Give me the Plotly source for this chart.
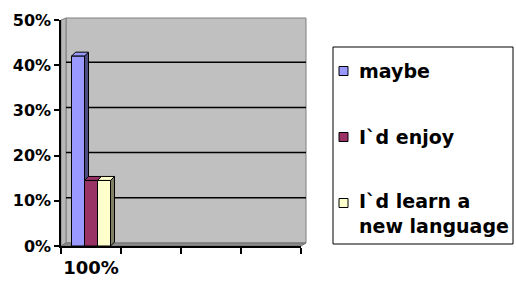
import plotly.graph_objects as go

categories = ["100%", " ", "  ", "   "]
series_names = ["maybe", "I`d enjoy", "I`d learn a<br>new language"]
series_values = [
    [0.42, None, None, None],
    [0.145, None, None, None],
    [0.145, None, None, None],
]
series_colors = ["#9999ff", "#993366", "#ffffcc"]
side_colors = ["#4d4d80", "#4d1a33", "#808066"]
y_ticks = [0, 0.1, 0.2, 0.3, 0.4, 0.5]

# layout geometry (pixels)
W, H = 516, 284
L, R, T, B = 61, 215, 20, 38
PW, PH = W - L - R, H - T - B
YMAX = 0.5
BARGAP = 0.35
DX, DY = 4, 4          # bar depth in px
WX, WY = 5, 3          # wall depth in px

def px_x(px):  # pixel -> paper x
    return (px - L) / PW

def px_y(py):  # pixel -> paper y
    return (H - B - py) / PH

xu = (len(categories)) / PW      # data units per px (x)
yu = YMAX / PH                   # data units per px (y)

fig = go.Figure()
for name, vals, col in zip(series_names, series_values, series_colors):
    fig.add_trace(go.Bar(
        x=list(range(len(categories))), y=vals, name=name.replace("<br>", " "),
        marker=dict(color=col, line=dict(color="black", width=1)),
        showlegend=False,
    ))

shapes = []
# back wall
shapes.append(dict(type="rect", xref="paper", yref="paper", layer="below",
                   x0=px_x(L + WX), x1=px_x(L + PW + WX), y0=px_y(H - B - WY), y1=px_y(T - 2),
                   fillcolor="#c0c0c0", line=dict(color="#808080", width=1)))
# left side wall
shapes.append(dict(type="path", xref="paper", yref="paper", layer="below",
                   path=f"M {px_x(L)},{px_y(H-B)} L {px_x(L+WX)},{px_y(H-B-WY)} L {px_x(L+WX)},{px_y(T-2)} L {px_x(L)},{px_y(T)} Z",
                   fillcolor="#b8b8b8", line=dict(color="#808080", width=1)))
# floor
shapes.append(dict(type="path", xref="paper", yref="paper", layer="below",
                   path=f"M {px_x(L)},{px_y(H-B)} L {px_x(L+WX)},{px_y(H-B-WY)} L {px_x(L+PW+WX)},{px_y(H-B-WY)} L {px_x(L+PW)},{px_y(H-B)} Z",
                   fillcolor="#8c8c8c", line=dict(color="#707070", width=1)))
# gridlines on the back wall
for v in y_ticks[1:-1]:
    yy = v + WY * yu
    shapes.append(dict(type="line", xref="paper", yref="y", layer="below",
                       x0=px_x(L + WX), x1=px_x(L + PW + WX), y0=yy, y1=yy,
                       line=dict(color="black", width=1.5)))
# 3D sides / tops of bars
n = len(series_values)
bw = (1 - BARGAP) / n
for i, (vals, col, scol) in enumerate(zip(series_values, series_colors, side_colors)):
    for c, v in enumerate(vals):
        if v is None:
            continue
        x0 = c - (1 - BARGAP) / 2 + i * bw
        x1 = x0 + bw
        dx, dy = DX * xu, DY * yu
        shapes.append(dict(type="path", xref="x", yref="y", layer="below",
                           path=f"M {x1},{0} L {x1+dx},{dy} L {x1+dx},{v+dy} L {x1},{v} Z",
                           fillcolor=scol, line=dict(color="black", width=1)))
        shapes.append(dict(type="path", xref="x", yref="y", layer="below",
                           path=f"M {x0},{v} L {x0+dx},{v+dy} L {x1+dx},{v+dy} L {x1},{v} Z",
                           fillcolor=col, line=dict(color="black", width=1)))

# legend box + swatches
LX0, LX1, LY0, LY1 = 333, 513, 47, 244
shapes.append(dict(type="rect", xref="paper", yref="paper",
                   x0=px_x(LX0), x1=px_x(LX1), y0=px_y(LY1), y1=px_y(LY0),
                   fillcolor="white", line=dict(color="black", width=1)))
swatch_rows = [71, 137, 203]
text_rows = [71, 137, 213]
annotations = []
for name, col, sy, ty in zip(series_names, series_colors, swatch_rows, text_rows):
    shapes.append(dict(type="rect", xref="paper", yref="paper",
                       x0=px_x(339), x1=px_x(348), y0=px_y(sy + 4.5), y1=px_y(sy - 4.5),
                       fillcolor=col, line=dict(color="black", width=1)))
    annotations.append(dict(xref="paper", yref="paper", x=px_x(357), y=px_y(ty),
                            xanchor="left", yanchor="middle", align="left", showarrow=False,
                            text=name,
                            font=dict(family="DejaVu Sans", size=19, weight="bold", color="black")))

fig.update_layout(
    width=W, height=H,
    margin=dict(l=L, r=R, t=T, b=B, autoexpand=False),
    paper_bgcolor="white",
    plot_bgcolor="rgba(0,0,0,0)",
    barmode="group",
    bargap=BARGAP,
    bargroupgap=0,
    font=dict(family="DejaVu Sans", color="black"),
    showlegend=False,
    shapes=shapes,
    annotations=annotations,
    xaxis=dict(
        automargin=False,
        range=[-0.5, len(categories) - 0.5],
        tickvals=list(range(len(categories))),
        ticktext=categories,
        showgrid=False,
        ticks="",
        showline=True, linecolor="black", linewidth=1.5,
        zeroline=False,
        tickfont=dict(size=18, weight="bold"),
        ticklabelstandoff=5,
        minor=dict(tickvals=[c - 0.5 for c in range(len(categories) + 1)],
                   ticks="outside", ticklen=6, tickcolor="black", tickwidth=1.5),
    ),
    yaxis=dict(
        automargin=False,
        range=[0, YMAX],
        tickvals=y_ticks,
        tickformat=".0%",
        ticks="outside", ticklen=5, tickcolor="black", tickwidth=1.5,
        showline=True, linecolor="black", linewidth=1.5,
        showgrid=False,
        zeroline=False,
        tickfont=dict(size=16, weight="bold"),
    ),
)
fig.write_html("out.html", config={"displayModeBar": False},
               post_script="document.body.style.margin='0';document.body.style.padding='0';")
